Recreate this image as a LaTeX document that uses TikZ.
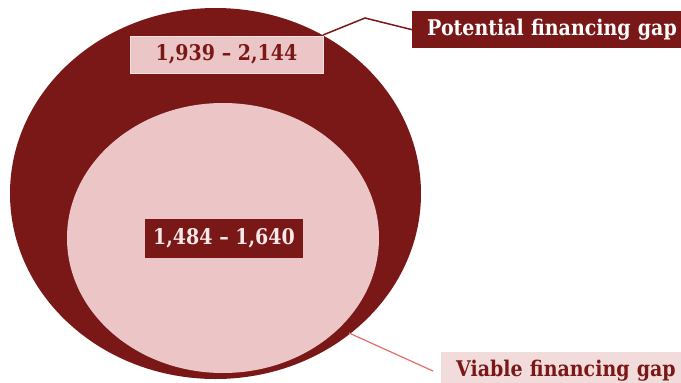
\documentclass[tikz,border=0pt]{standalone}
\usepackage{fontspec}
\setmainfont{DejaVu Serif}[FakeStretch=0.88]
\usetikzlibrary{shapes.geometric}
\definecolor{wine}{RGB}{122,24,24}
\definecolor{blush}{RGB}{236,198,198}
\definecolor{paleblush}{RGB}{242,220,219}
\definecolor{rimpink}{RGB}{248,226,226}
\definecolor{salmon}{RGB}{230,108,108}
\definecolor{lighttext}{RGB}{248,232,232}
\tikzset{
  lbl/.style={font=\bfseries\fontsize{21.6}{24}\selectfont, inner sep=0pt},
  disc/.style={ellipse, inner sep=0pt},
}
\begin{document}
\begin{tikzpicture}[x=1pt,y=-1pt]
  \clip (0,0) rectangle (681,383);
  \fill[white] (0,0) rectangle (681,383);

  % nested ellipses
  \node[disc, fill=wine, minimum width=411pt, minimum height=371pt] (outer) at (215.5,193.5) {};
  \node[disc, fill=blush, minimum width=312pt, minimum height=270pt] (inner) at (223,238) {};

  % value labels
  \node[lbl, fill=blush, draw=rimpink, line width=1pt, text=wine,
        minimum width=193pt, minimum height=37pt] (potval) at (226.5,54.5) {1,939 – 2,144};
  \node[lbl, fill=wine, text=lighttext,
        minimum width=158pt, minimum height=39pt] (viaval) at (224,238.5) {1,484 – 1,640};

  % legend boxes
  \node[lbl, fill=wine, text=white, anchor=north west, minimum height=37pt,
        text width=269pt, align=left] (pot) at (412,11) {\hspace*{15pt}Potential financing gap};
  \node[lbl, fill=paleblush, text=wine, anchor=north west, minimum height=36pt,
        text width=240pt, align=left] (via) at (441,352) {\hspace*{15pt}Viable financing gap};

  % leader lines
  \coordinate (potfoot) at (323,35);
  \coordinate (potknee) at (365,18);
  \draw[wine, line width=1.5pt] (potfoot) -- (potknee) -- (pot.west);
  \coordinate (viastart) at (349,333);
  \coordinate (viaend) at (433,371);
  \draw[salmon, line width=1.2pt] (viastart) -- (viaend);
\end{tikzpicture}
\end{document}
